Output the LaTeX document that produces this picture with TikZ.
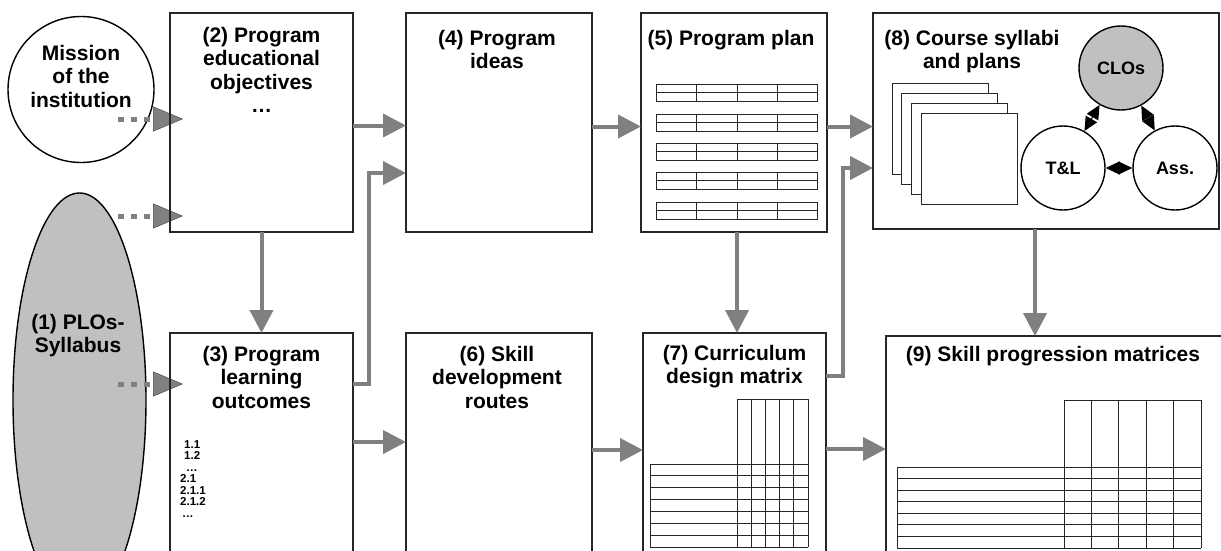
\documentclass[tikz,border=0pt]{standalone}
\usepackage{fontspec}
\setmainfont{Liberation Sans}
\usetikzlibrary{arrows.meta,shapes.geometric}
\definecolor{flowgray}{HTML}{808080}
\definecolor{shadegray}{HTML}{C0C0C0}
\tikzset{
  box/.style={draw=black!85, line width=1.3pt, anchor=north west, inner sep=0pt, outer sep=0pt},
  boxtitle/.style={font=\fontsize{21}{23.5}\selectfont\bfseries, align=center, inner sep=0pt, anchor=north},
  flow/.style={draw=flowgray, line width=4pt, -{Triangle[length=23pt,width=23pt]}},
  dotflow/.style={draw=flowgray, line width=5pt, dash pattern=on 6pt off 7pt,
    -{Triangle[length=30pt,width=25pt,color=black!70,fill=flowgray,line width=0.5pt]}},
  ring/.style={circle, draw=black, line width=1.4pt, minimum size=84pt, inner sep=0pt,
    font=\fontsize{18}{20}\selectfont\bfseries},
  twoway/.style={draw=black, line width=1pt, {Triangle[length=14pt,width=13pt]}-{Triangle[length=14pt,width=13pt]}},
  cellline/.style={draw=black!85, line width=0.8pt},
  sheet/.style={draw=black!85, line width=0.9pt, fill=white}
}
\begin{document}
\begin{tikzpicture}[x=1pt, y=-1pt]
\useasboundingbox (0,0) rectangle (1221,551);
\clip (0,0) rectangle (1221,551);
\node[draw, ellipse, fill=shadegray, line width=1.4pt, minimum width=133pt, minimum height=414pt, inner sep=0pt] (plo) at (79.5,400) {};
\node[boxtitle] (plotxt) at (78,314) {(1) PLOs-\\Syllabus};
\node[draw, circle, line width=1.4pt, minimum size=146pt, inner sep=0pt] (mis) at (81,89.5) {};
\node[boxtitle] (mistxt) at (81,45) {Mission\\of the\\institution};

\foreach \y [count=\n] in {119,216,384} {
  \coordinate (s\n) at (118,\y);
  \coordinate (e\n) at (183,\y);
  \draw[dotflow] (s\n) -- (e\n);
}

\node[box, minimum width=183pt, minimum height=219pt] (b2) at (170,13) {};
\node[box, minimum width=183pt, minimum height=230pt] (b3) at (170,333) {};
\node[box, minimum width=186pt, minimum height=219pt] (b4) at (406,13) {};
\node[box, minimum width=186pt, minimum height=230pt] (b6) at (406,333) {};
\node[box, minimum width=186pt, minimum height=219pt] (b5) at (641,13) {};
\node[box, minimum width=183pt, minimum height=230pt] (b7) at (643,333) {};
\node[box, minimum width=346pt, minimum height=216pt] (b8) at (873,13) {};
\node[box, minimum width=345pt, minimum height=230pt] (b9) at (886,336) {};

\node[boxtitle] (t2) at (261.5,27) {(2) Program\\educational\\objectives\\…};
\node[boxtitle] (t3) at (261.5,346) {(3) Program\\learning\\outcomes};
\node[boxtitle] (t4) at (497,30) {(4) Program\\ideas};
\node[boxtitle] (t5) at (731,30) {(5) Program plan};
\node[boxtitle] (t6) at (497,346) {(6) Skill\\development\\routes};
\node[boxtitle] (t7) at (734.5,345) {(7) Curriculum\\design matrix};
\node[boxtitle] (t8) at (972,30) {(8) Course syllabi\\and plans};
\node[boxtitle] (t9) at (1053,346) {(9) Skill progression matrices};

\node[font=\fontsize{11.5}{11.5}\selectfont\bfseries, align=left, inner sep=0pt, anchor=north west] (plist) at (180,440)
  {\hspace*{4pt}1.1\\\hspace*{4pt}1.2\\\hspace*{6pt}…\\2.1\\2.1.1\\2.1.2\\\hspace*{2pt}…};

\foreach \t in {84,114,143,172,202} {
  \draw[cellline] (656,\t) rectangle (817,\t+17);
  \draw[cellline] (656,\t+8.5) -- (817,\t+8.5);
  \foreach \c in {696,737,777} \draw[cellline] (\c,\t) -- (\c,\t+17);
}

\foreach \i in {0,...,3} \draw[sheet] (892+9.7*\i,83+10.3*\i) rectangle ++(96,91);
\node[ring, fill=shadegray] (clo) at (1121,68) {CLOs};
\node[ring] (tl) at (1063,168) {T\&L};
\node[ring] (ass) at (1175,168) {Ass.};
\draw[twoway] (tl) -- (clo);
\draw[twoway] (clo) -- (ass);
\draw[twoway] (tl) -- (ass);

\foreach \k in {0,...,5} \draw[cellline] (737+14.2*\k,399) -- (737+14.2*\k,547);
\draw[cellline] (737,399) -- (808,399);
\foreach \k in {0,...,7} \draw[cellline] (650,464+11.86*\k) -- (808,464+11.86*\k);
\draw[cellline] (650,464) -- (650,547);

\foreach \k in {0,...,5} \draw[cellline] (1064+27.4*\k,400) -- (1064+27.4*\k,548);
\draw[cellline] (1064,400) -- (1201,400);
\foreach \k in {0,...,7} \draw[cellline] (897,467+11.57*\k) -- (1201,467+11.57*\k);
\draw[cellline] (897,467) -- (897,548);

\draw[flow] (b2.south) -- (b3.north);
\coordinate (p24) at ([yshift=-3pt]b2.east);
\draw[flow] (p24) -- (p24 -| b4.west);
\coordinate (p34) at ([yshift=-51pt]b3.north east);
\coordinate (q34) at ([yshift=-160pt]b4.north west);
\draw[flow] (p34) -- ++(16,0) |- (q34);
\coordinate (p36) at ([yshift=-109pt]b3.north east);
\draw[flow] (p36) -- (p36 -| b6.west);
\coordinate (p45) at ([yshift=-4pt]b4.east);
\draw[flow] (p45) -- (p45 -| b5.west);
\coordinate (p58) at ([yshift=-4pt]b5.east);
\draw[flow] (p58) -- (p58 -| b8.west);
\coordinate (p57) at ([xshift=3pt]b5.south);
\draw[flow] (p57) -- (p57 |- b7.north);
\coordinate (p67) at ([yshift=-117pt]b6.north east);
\draw[flow] (p67) -- (p67 -| b7.west);
\coordinate (p78) at ([yshift=-43pt]b7.north east);
\coordinate (q78) at ([yshift=-155pt]b8.north west);
\draw[flow] (p78) -- ++(17,0) |- (q78);
\coordinate (p79) at ([yshift=-116pt]b7.north east);
\draw[flow] (p79) -- (p79 -| b9.west);
\coordinate (p89) at ([xshift=162pt]b8.south west);
\draw[flow] (p89) -- (p89 |- b9.north);
\end{tikzpicture}
\end{document}
